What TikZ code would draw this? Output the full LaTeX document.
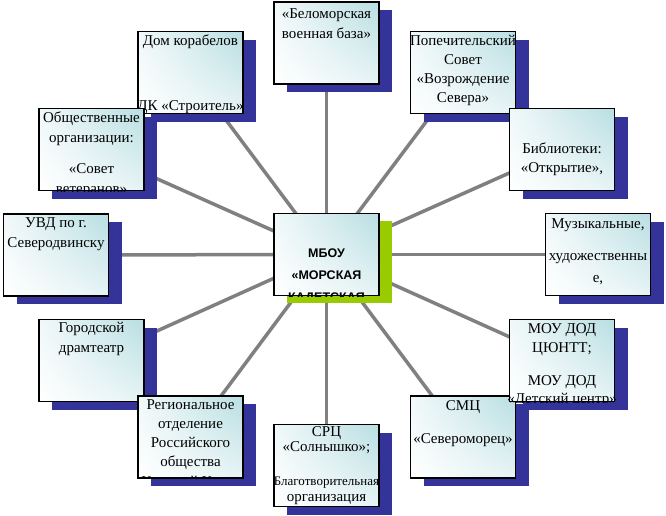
\documentclass[tikz,border=0pt]{standalone}
\usepackage{fontspec}
\setmainfont{Liberation Serif}
\setsansfont{Liberation Sans}
\usepackage{tikz}
\usetikzlibrary{shadows,shadings,backgrounds}
\definecolor{shadowblue}{RGB}{51,51,153}
\definecolor{cadetgreen}{RGB}{153,204,0}
\definecolor{boxteal}{RGB}{184,222,226}
\definecolor{linkgray}{RGB}{128,128,128}
\tikzset{
	basebox/.style={rectangle, draw=black, line width=1.3pt, minimum width=105pt, minimum height=82pt, inner sep=0pt, lower left=white, upper left=boxteal!20!white, upper right=boxteal, lower right=boxteal!35!white},
	partnerbox/.style={basebox, drop shadow={shadow xshift=13pt, shadow yshift=-8pt, fill=shadowblue, opacity=1}},
	schoolbox/.style={basebox, drop shadow={shadow xshift=13pt, shadow yshift=-7pt, fill=cadetgreen, opacity=1}},
	boxtext/.style={anchor=north, align=center, inner sep=0pt, font=\fontsize{15}{20}\selectfont},
	schooltext/.style={boxtext, font=\sffamily\bfseries\fontsize{12.5}{20}\selectfont},
	linkline/.style={linkgray, line width=3.5pt}
}

\begin{document}
\begin{tikzpicture}[x=1pt, y=-1pt]
	\useasboundingbox (0,0) rectangle (666,515);
	
	% partners
	\node[partnerbox] (belomor) at (326.5,43) {};
	\begin{scope}
		\clip (belomor.south west) rectangle (belomor.north east);
		\node[boxtext] (belomor-text) at (326.5,4) {\strut«Беломорская\\военная база»};
	\end{scope}
	
	\node[partnerbox] (dom) at (190.5,72.5) {};
	\begin{scope}
		\clip (dom.south west) rectangle (dom.north east);
		\node[boxtext] (dom-text) at (190.5,31) {\strut Дом корабелов\\[45pt]ДК «Строитель»};
	\end{scope}
	
	\node[partnerbox] (obshch) at (91.5,149.5) {};
	\begin{scope}
		\clip (obshch.south west) rectangle (obshch.north east);
		\node[boxtext] (obshch-text) at (91.5,108) {\strut Общественные\\организации:\\[11pt]«Совет\\ветеранов»};
	\end{scope}
	
	\node[partnerbox] (uvd) at (56,255) {};
	\begin{scope}
		\clip (uvd.south west) rectangle (uvd.north east);
		\node[boxtext] (uvd-text) at (56,213) {\strut УВД по г.\\Северодвинску};
	\end{scope}
	
	\node[partnerbox] (popech) at (463,72.5) {};
	\begin{scope}
		\clip (popech.south west) rectangle (popech.north east);
		\node[boxtext] (popech-text) at (463,31) {\strut Попечительский\\[-1pt]Совет\\[-1pt]«Возрождение\\[-1pt]Севера»};
	\end{scope}
	
	\node[partnerbox] (bibl) at (562,149.5) {};
	\begin{scope}
		\clip (bibl.south west) rectangle (bibl.north east);
		\node[boxtext] (bibl-text) at (562,139) {\strut Библиотеки:\\[-1pt]«Открытие»,};
	\end{scope}
	
	\node[partnerbox] (muz) at (598,254.5) {};
	\begin{scope}
		\clip (muz.south west) rectangle (muz.north east);
		\node[boxtext] (muz-text) at (598,214) {\strut Музыкальные,\\[12pt]художественны\\[2pt]е,};
	\end{scope}
	
	\node[partnerbox] (gorod) at (91.5,360.5) {};
	\begin{scope}
		\clip (gorod.south west) rectangle (gorod.north east);
		\node[boxtext] (gorod-text) at (91.5,318) {\strut Городской\\драмтеатр};
	\end{scope}
	
	\node[partnerbox] (region) at (190.5,437) {};
	\begin{scope}
		\clip (region.south west) rectangle (region.north east);
		\node[boxtext] (region-text) at (190.5,395) {\strut Региональное\\[-0.75pt]отделение\\[-0.75pt]Российского\\[-0.75pt]общества\\[-0.75pt]«Красный Крест»};
	\end{scope}
	
	\node[partnerbox] (src) at (326.5,465.5) {};
	\begin{scope}
		\clip (src.south west) rectangle (src.north east);
		\node[boxtext] (src-text) at (326.5,422) {\strut СРЦ\\[-5pt]«Солнышко»;\\[14pt]{\fontsize{13}{20}\selectfont Благотворительная}\\[-4pt]организация};
	\end{scope}
	
	\node[partnerbox] (smc) at (463,437) {};
	\begin{scope}
		\clip (smc.south west) rectangle (smc.north east);
		\node[boxtext] (smc-text) at (463,396) {\strut СМЦ\\[13pt]«Североморец»};
	\end{scope}
	
	\node[partnerbox] (mou) at (562,360.5) {};
	\begin{scope}
		\clip (mou.south west) rectangle (mou.north east);
		\node[boxtext] (mou-text) at (562,319) {\strut МОУ ДОД\\[-1pt]ЦЮНТТ;\\[13pt]МОУ ДОД\\[-2pt]«Детский центр»};
	\end{scope}
	
	% school
	\node[schoolbox] (school) at (326.5,254.5) {};
	\begin{scope}
		\clip (school.south west) rectangle (school.north east);
		\node[schooltext] (school-text) at (326.5,243.5) {\strut МБОУ\\[2pt]«МОРСКАЯ\\[2pt]КАДЕТСКАЯ};
	\end{scope}
	
	% links
	\begin{scope}[on background layer]
		\draw[linkline] (school.center) -- (belomor.center);
		\draw[linkline] (school.center) -- (dom.center);
		\draw[linkline] (school.center) -- (obshch.center);
		\draw[linkline] (school.center) -- (uvd.center);
		\draw[linkline] (school.center) -- (popech.center);
		\draw[linkline] (school.center) -- (bibl.center);
		\draw[linkline] (school.center) -- (muz.center);
		\draw[linkline] (school.center) -- (gorod.center);
		\draw[linkline] (school.center) -- (region.center);
		\draw[linkline] (school.center) -- (src.center);
		\draw[linkline] (school.center) -- (smc.center);
		\draw[linkline] (school.center) -- (mou.center);
	\end{scope}
\end{tikzpicture}
\end{document}
